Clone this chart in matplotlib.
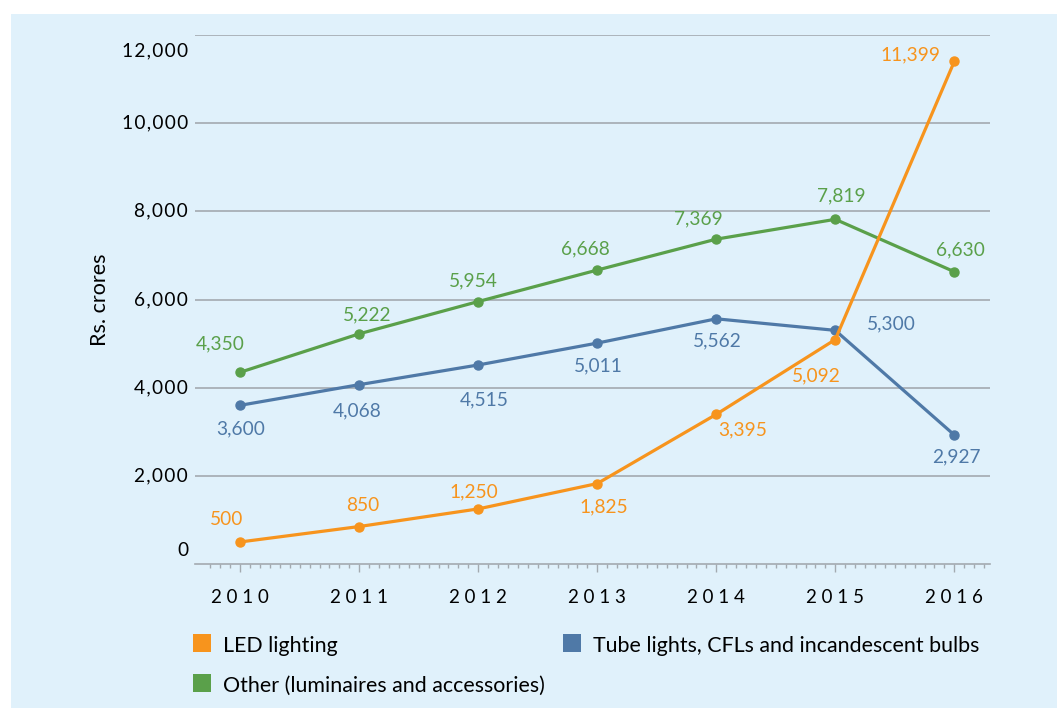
import matplotlib.pyplot as plt
from matplotlib.patches import Rectangle
from matplotlib.ticker import FixedLocator

plt.rcParams["font.family"] = ["Lato", "DejaVu Sans"]

# data
years = [2010, 2011, 2012, 2013, 2014, 2015, 2016]
led = [500, 850, 1250, 1825, 3395, 5092, 11399]
tube = [3600, 4068, 4515, 5011, 5562, 5300, 2927]
other = [4350, 5222, 5954, 6668, 7369, 7819, 6630]
yticks = [0, 2000, 4000, 6000, 8000, 10000, 12000]

series_names = ["LED lighting", "Tube lights, CFLs and incandescent bulbs",
                "Other (luminaires and accessories)"]

ORANGE = "#F7941D"
BLUE = "#4F79A7"
GREEN = "#5AA04A"
BG = "#E0F1FB"
GRID = "#A3AAB0"

# label offsets in pixels (dx, dy) for each point
led_off = [(-14, 22), (4, 21), (-4, 17), (7, -23), (26, -16), (-19, -36), (-44, 7)]
tube_off = [(0, -24), (-2, -26), (6, -35), (1, -23), (1, -22), (56, 6), (2, -22)]
other_off = [(-20, 28), (8, 19), (-5, 21), (-12, 21), (-18, 20), (6, 23), (6, 22)]

fig = plt.figure(figsize=(10.57, 7.08), dpi=100)
fig.patch.set_facecolor("white")
fig.add_artist(Rectangle((11 / 1057, 0), 1 - 11 / 1057, 1 - 14 / 708,
                         transform=fig.transFigure, facecolor=BG,
                         edgecolor="none", zorder=0))

ax = fig.add_axes([195 / 1057, 1 - 564 / 708, 795 / 1057, 529 / 708])
ax.set_facecolor("none")
ax.set_xlim(years[0] - 0.38, years[-1] + 0.30)
ax.set_ylim(0, 12000)

for v in yticks[1:]:
    ax.axhline(v, color=GRID, lw=1.2, zorder=1)

for vals, col, offs in [(tube, BLUE, tube_off), (other, GREEN, other_off),
                        (led, ORANGE, led_off)]:
    ax.plot(years, vals, color=col, lw=2.3, marker="o", ms=6.5, zorder=3)
    for x, v, (dx, dy) in zip(years, vals, offs):
        ax.annotate(f"{v:,}", (x, v), xytext=(dx, dy), textcoords="offset pixels",
                    ha="center", va="center", color=col, fontsize=13.8)

for s in ["top", "right", "left"]:
    ax.spines[s].set_visible(False)
ax.spines["bottom"].set_color(GRID)
ax.spines["bottom"].set_linewidth(1.2)

ax.set_xticks(years)
ax.set_xticklabels([" ".join(str(y)) for y in years], fontsize=13.5)
ax.xaxis.set_minor_locator(FixedLocator(
    [years[0] - 0.25 + m / 12 for m in range(int((years[-1] - years[0] + 0.5) * 12) + 1)]))
ax.tick_params(axis="x", which="major", length=6, width=1, color=GRID, pad=12)
ax.tick_params(axis="x", which="minor", length=3, width=1, color=GRID)

ax.set_yticks([])
label_dy = {0: 14, 12000: -16}
for v in yticks:
    ax.annotate("\u200a".join(f"{v:,}"), (0, v), xycoords=ax.get_yaxis_transform(),
                xytext=(-7, label_dy.get(v, 0)), textcoords="offset pixels",
                ha="right", va="center", fontsize=13.8)

fig.text(100 / 1057, 1 - 300 / 708, "Rs. crores", rotation=90, ha="center",
         va="center", fontsize=15.5)

# legend
legend_items = [(ORANGE, series_names[0], 193, 643), (GREEN, series_names[2], 193, 683),
                (BLUE, series_names[1], 563, 643)]
for col, name, px, py in legend_items:
    fig.add_artist(Rectangle((px / 1057, 1 - (py + 9) / 708), 18 / 1057, 18 / 708,
                             transform=fig.transFigure, facecolor=col, edgecolor="none"))
    fig.text((px + 30) / 1057, 1 - (py + 3) / 708, name, ha="left", va="center",
             fontsize=15.4)

fig.savefig("out.png", dpi=100)
